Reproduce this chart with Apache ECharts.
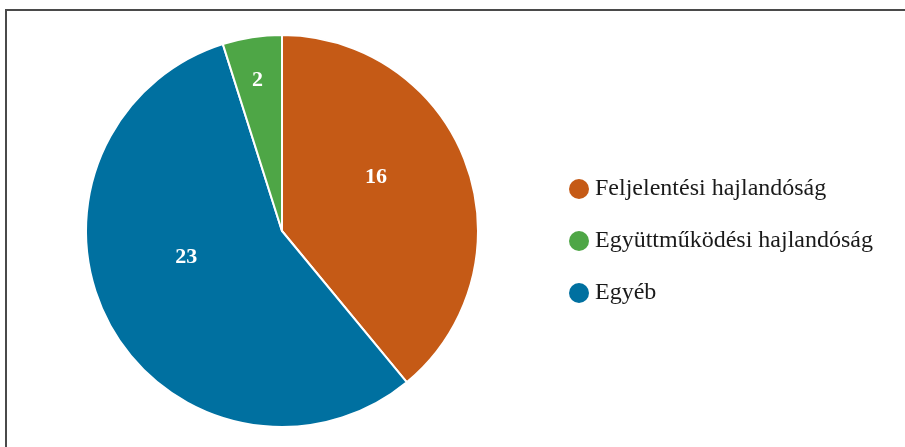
<!DOCTYPE html>
<html><head><meta charset="utf-8">
<script src="https://cdn.jsdelivr.net/npm/echarts@6/dist/echarts.min.js"></script>
<style>html,body{margin:0;padding:0;background:#fff}#c{width:905px;height:447px}</style>
</head><body><div id="c"></div>
<script>
// Legend order
const categories = ['Feljelentési hajlandóság', 'Együttműködési hajlandóság', 'Egyéb'];
const values = [16, 2, 23];
// Drawing order (clockwise from top)
const drawOrder = ['Feljelentési hajlandóság', 'Egyéb', 'Együttműködési hajlandóság'];

const colors = {
  'Feljelentési hajlandóság': '#C55A16',
  'Együttműködési hajlandóság': '#4EA646',
  'Egyéb': '#0070A0'
};
const labelOffsets = {
  'Feljelentési hajlandóság': [-1, -20],
  'Együttműködési hajlandóság': [-9, -51],
  'Egyéb': [-7, -22]
};

const chart = echarts.init(document.getElementById('c'));
const data = drawOrder.map(n => ({
  name: n,
  value: values[categories.indexOf(n)],
  itemStyle: { color: colors[n] },
  label: { offset: labelOffsets[n] }
}));
chart.setOption({
  animation: false,
  graphic: [{
    type: 'rect', shape: { x: 6, y: 10, width: 2000, height: 2000 },
    style: { fill: 'none', stroke: '#4a4a4a', lineWidth: 2 }, silent: true
  }],
  legend: {
    orient: 'vertical', left: 569, top: 177, padding: 0,
    data: categories,
    icon: 'circle', itemWidth: 20, itemHeight: 20, itemGap: 28,
    itemStyle: { borderWidth: 0 },
    textStyle: { fontFamily: 'Liberation Serif', fontSize: 24, lineHeight: 20, color: '#1a1a1a', padding: [0, 0, 0, 1] }
  },
  series: [{
    type: 'pie',
    center: [282, 231], radius: [0, 196],
    startAngle: 90, clockwise: true,
    label: {
      show: true, position: 'inside', formatter: '{c}',
      fontFamily: 'Liberation Serif', fontWeight: 'bold', fontSize: 22, color: '#fff'
    },
    labelLine: { show: false },
    itemStyle: { borderColor: '#fff', borderWidth: 2 },
    emphasis: { disabled: true },
    data: data
  }]
});
</script></body></html>
